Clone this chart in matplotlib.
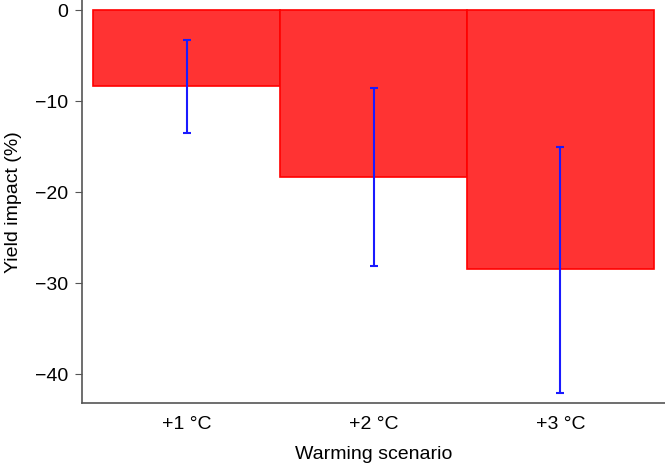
import matplotlib
matplotlib.use("Agg")
import matplotlib.pyplot as plt

scenarios = ["+1 °C", "+2 °C", "+3 °C"]
impact = [-8.35, -18.35, -28.45]
err_low = [-13.5, -28.1, -42.1]
err_high = [-3.3, -8.6, -15.05]

plt.rcParams['font.family'] = ['Liberation Sans', 'DejaVu Sans']

fig = plt.figure(figsize=(6.65, 4.64), dpi=100)
ax = fig.add_axes([82 / 665, 60 / 464, 1 - 82 / 665, 1 - 60 / 464])

x = [1, 2, 3]
ax.bar(x, impact, width=1.0, color="#ff3333", edgecolor="#ff0000", linewidth=1.2)

yerr = [[m - lo for m, lo in zip(impact, err_low)],
        [hi - m for m, hi in zip(impact, err_high)]]
ax.errorbar(x, impact, yerr=yerr, fmt="none", ecolor="#1a1aff",
            elinewidth=1.5, capsize=3.2, capthick=1.5)

ax.set_xlim(0.441, 3.559)
ax.set_ylim(-43.2, 1.2)
ax.set_xticks(x)
ax.set_xticklabels(scenarios)
ax.set_yticks([0, -10, -20, -30, -40])
ax.set_yticklabels(["0", "\u221210", "\u221220", "\u221230", "\u221240"])

for s in ["top", "right"]:
    ax.spines[s].set_visible(False)
for s in ["left", "bottom"]:
    ax.spines[s].set_color("#555555")
    ax.spines[s].set_linewidth(1.2)
ax.tick_params(axis="x", length=0, labelsize=14, pad=9)
ax.tick_params(axis="y", length=5, color="#555555", labelsize=14,
               direction="out", pad=5)

ax.set_xlabel("Warming scenario", fontsize=14, labelpad=9)
ax.set_ylabel("Yield impact (%)", fontsize=14, labelpad=9)

fig.savefig("out.png", dpi=100)
